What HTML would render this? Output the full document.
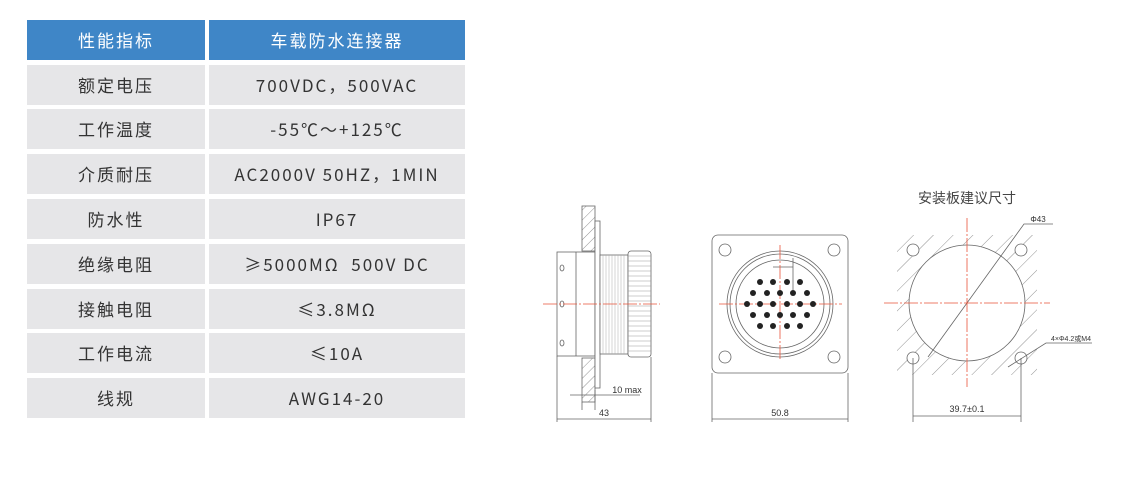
<!DOCTYPE html>
<html><head><meta charset="utf-8"><style>
body{margin:0;width:1121px;height:487px;background:#fff;position:relative;overflow:hidden;font-family:"Noto Sans CJK SC","Liberation Sans",sans-serif}
.c{position:absolute;height:40px;line-height:40px;text-align:center;font-size:17px;color:#333;letter-spacing:2px;background:#e6e6e8}
.h{background:#3f86c7;color:#fff}
.a{left:27px;width:178px}.b{left:209px;width:256px}
svg{position:absolute;left:0;top:0}
</style></head><body>
<div class="c a h" style="top:20px">性能指标</div><div class="c b h" style="top:20px">车载防水连接器</div>
<div class="c a" style="top:65px">额定电压</div><div class="c b" style="top:65px">700VDC，500VAC</div>
<div class="c a" style="top:109px">工作温度</div><div class="c b" style="top:109px">-55℃～+125℃</div>
<div class="c a" style="top:154px">介质耐压</div><div class="c b" style="top:154px">AC2000V 50HZ，1MIN</div>
<div class="c a" style="top:199px">防水性</div><div class="c b" style="top:199px">IP67</div>
<div class="c a" style="top:244px">绝缘电阻</div><div class="c b" style="top:244px">≥5000MΩ&nbsp; 500V DC</div>
<div class="c a" style="top:289px">接触电阻</div><div class="c b" style="top:289px">≤3.8MΩ</div>
<div class="c a" style="top:333px">工作电流</div><div class="c b" style="top:333px">≤10A</div>
<div class="c a" style="top:378px">线规</div><div class="c b" style="top:378px">AWG14-20</div>
<svg width="1121" height="487" font-family="Liberation Sans, sans-serif">
<defs>
<pattern id="hp" width="7" height="7" patternUnits="userSpaceOnUse" patternTransform="rotate(45)"><line x1="0" y1="0" x2="0" y2="7" stroke="#777" stroke-width="0.8"/></pattern>
<pattern id="hp2" width="14" height="14" patternUnits="userSpaceOnUse" patternTransform="rotate(-45)"><line x1="0" y1="0" x2="14" y2="0" stroke="#777" stroke-width="0.8"/></pattern>
<clipPath id="sq"><rect x="897" y="235" width="140" height="140"/></clipPath>
</defs>
<g fill="none" stroke="#666" stroke-width="0.8">
<rect x="582" y="206" width="13" height="45" fill="url(#hp)"/>
<rect x="582" y="358" width="13" height="44" fill="url(#hp)"/>
<rect x="557" y="252" width="38" height="104" fill="#fff"/>
<line x1="576" y1="252" x2="576" y2="356"/>
<rect x="595" y="221" width="5" height="167" fill="#fff"/>
<rect x="600" y="255" width="28" height="99" fill="#fff"/>
<g stroke="#aaa" stroke-width="0.5"><path d="M603 255V354M606 255V354M609 255V354M612 255V354M615 255V354M618 255V354M621 255V354M624 255V354"/></g>
<rect x="628" y="251" width="23" height="106" rx="3" fill="#fff"/>
<g stroke="#999" stroke-width="0.5"><path d="M628 256H651M628 261H651M628 266H651M628 271H651M628 276H651M628 281H651M628 286H651M628 291H651M628 296H651M628 301H651M628 306H651M628 311H651M628 316H651M628 321H651M628 326H651M628 331H651M628 336H651M628 341H651M628 346H651M628 351H651"/></g>
<ellipse cx="562" cy="268" rx="2" ry="3"/><ellipse cx="562" cy="304" rx="2" ry="3"/><ellipse cx="562" cy="343" rx="2" ry="3"/>
<path d="M557 356V422M651 357V422M557 419H651M570 395H640M582 402V410M595 390V410"/>
<rect x="712" y="235" width="136" height="138" rx="6"/>
<circle cx="725" cy="250" r="6"/><circle cx="834" cy="250" r="6"/><circle cx="725" cy="357" r="6"/><circle cx="834" cy="357" r="6"/>
<circle cx="780" cy="304" r="53"/><circle cx="780" cy="304" r="50"/><circle cx="780" cy="304" r="44"/>
<path d="M712 373V422M848 373V422M712 419H848M773 267H793M793 258V290"/>
<g clip-path="url(#sq)"><rect x="897" y="235" width="140" height="140" fill="url(#hp2)" stroke="none"/></g>
<circle cx="967" cy="303" r="58" fill="#fff"/>
<circle cx="913" cy="250" r="6" fill="#fff"/><circle cx="1021" cy="250" r="6" fill="#fff"/><circle cx="913" cy="358" r="6" fill="#fff"/><circle cx="1021" cy="358" r="6" fill="#fff"/>
<path d="M913 358V422M1021 358V422M913 416H1021M928 357L1024 224H1053M1008 367L1046 343H1092"/>
</g>
<g stroke="#e8543a" stroke-width="0.8" stroke-dasharray="14 2 2 2">
<path d="M543 304H660M719 304H842M780 245V360M884 303H1050M967 218V387"/>
</g>
<g fill="#222">
<circle cx="760" cy="282" r="3"/><circle cx="773" cy="282" r="3"/><circle cx="787" cy="282" r="3"/><circle cx="800" cy="282" r="3"/>
<circle cx="753" cy="293" r="3"/><circle cx="767" cy="293" r="3"/><circle cx="780" cy="293" r="3"/><circle cx="793" cy="293" r="3"/><circle cx="807" cy="293" r="3"/>
<circle cx="747" cy="304" r="3"/><circle cx="760" cy="304" r="3"/><circle cx="773" cy="304" r="3"/><circle cx="787" cy="304" r="3"/><circle cx="800" cy="304" r="3"/><circle cx="813" cy="304" r="3"/>
<circle cx="753" cy="315" r="3"/><circle cx="767" cy="315" r="3"/><circle cx="780" cy="315" r="3"/><circle cx="793" cy="315" r="3"/><circle cx="807" cy="315" r="3"/>
<circle cx="760" cy="326" r="3"/><circle cx="773" cy="326" r="3"/><circle cx="787" cy="326" r="3"/><circle cx="800" cy="326" r="3"/>
</g>
<g font-size="9" fill="#333" text-anchor="middle">
<text x="604" y="416">43</text><text x="627" y="393">10 max</text>
<text x="780" y="416">50.8</text><text x="967" y="412">39.7±0.1</text>
<text x="1038" y="222" font-size="8">Φ43</text><text x="1071" y="341" font-size="7">4×Φ4.2或M4</text>
</g>
<text x="967" y="203" font-size="14" fill="#444" text-anchor="middle" font-family="Noto Sans CJK SC, sans-serif">安装板建议尺寸</text>
</svg>
</body></html>
